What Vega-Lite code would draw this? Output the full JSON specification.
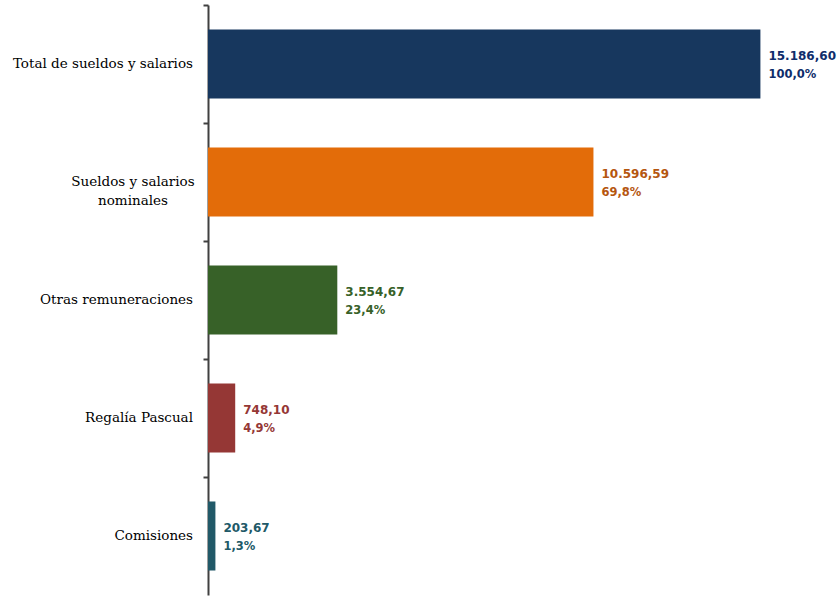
{
  "$schema": "https://vega.github.io/schema/vega-lite/v6.json",
  "width": 582,
  "height": 590,
  "autosize": {"type": "none"},
  "padding": {"left": 208, "top": 5, "right": 47, "bottom": 1},
  "background": "white",
  "data": {
    "values": [
      {"cat": "Total de sueldos y salarios", "valor": 15186.60, "valtxt": "15.186,60", "pct": "100,0%", "color": "#17375E", "tcolor": "#0F2D6B"},
      {"cat": "Sueldos y salarios|nominales", "valor": 10596.59, "valtxt": "10.596,59", "pct": "69,8%", "color": "#E36C09", "tcolor": "#B5560F"},
      {"cat": "Otras remuneraciones", "valor": 3554.67, "valtxt": "3.554,67", "pct": "23,4%", "color": "#376128", "tcolor": "#376128"},
      {"cat": "Regalía Pascual", "valor": 748.10, "valtxt": "748,10", "pct": "4,9%", "color": "#953735", "tcolor": "#953735"},
      {"cat": "Comisiones", "valor": 203.67, "valtxt": "203,67", "pct": "1,3%", "color": "#215968", "tcolor": "#215968"}
    ]
  },
  "encoding": {
    "y": {
      "field": "cat",
      "type": "nominal",
      "sort": null,
      "title": null,
      "scale": {"paddingInner": 0.415, "paddingOuter": 0.2075},
      "axis": {
        "labels": false,
        "tickOffset": -59,
        "tickSize": 5,
        "tickWidth": 2,
        "tickColor": "#404040",
        "domainColor": "#404040",
        "domainWidth": 2,
        "grid": false
      }
    }
  },
  "layer": [
    {
      "mark": {"type": "bar"},
      "encoding": {
        "x": {"field": "valor", "type": "quantitative", "scale": {"domain": [0, 16000], "nice": false}, "axis": null},
        "color": {"field": "color", "type": "nominal", "scale": null}
      }
    },
    {
      "mark": {"type": "text", "align": "left", "baseline": "middle", "dx": 8, "dy": -8, "font": "DejaVu Sans", "fontWeight": "bold", "fontSize": 12},
      "encoding": {
        "x": {"field": "valor", "type": "quantitative"},
        "text": {"field": "valtxt"},
        "color": {"field": "tcolor", "type": "nominal", "scale": null}
      }
    },
    {
      "mark": {"type": "text", "align": "left", "baseline": "middle", "dx": 8, "dy": 11, "font": "DejaVu Sans", "fontWeight": "bold", "fontSize": 11.5},
      "encoding": {
        "x": {"field": "valor", "type": "quantitative"},
        "text": {"field": "pct"},
        "color": {"field": "tcolor", "type": "nominal", "scale": null}
      }
    },
    {
      "transform": [{"filter": "indexof(datum.cat, 'nominales') < 0"}],
      "mark": {"type": "text", "align": "right", "baseline": "middle", "dx": -15, "font": "DejaVu Serif", "fontSize": 13.5, "color": "#000000"},
      "encoding": {
        "x": {"datum": 0, "type": "quantitative"},
        "text": {"field": "cat"}
      }
    },
    {
      "transform": [{"filter": "indexof(datum.cat, 'nominales') >= 0"}],
      "mark": {"type": "text", "align": "center", "baseline": "middle", "dx": -75, "font": "DejaVu Serif", "fontSize": 13.5, "color": "#000000", "lineBreak": "|", "lineHeight": 19},
      "encoding": {
        "x": {"datum": 0, "type": "quantitative"},
        "text": {"field": "cat"}
      }
    }
  ],
  "config": {"view": {"stroke": null}}
}
